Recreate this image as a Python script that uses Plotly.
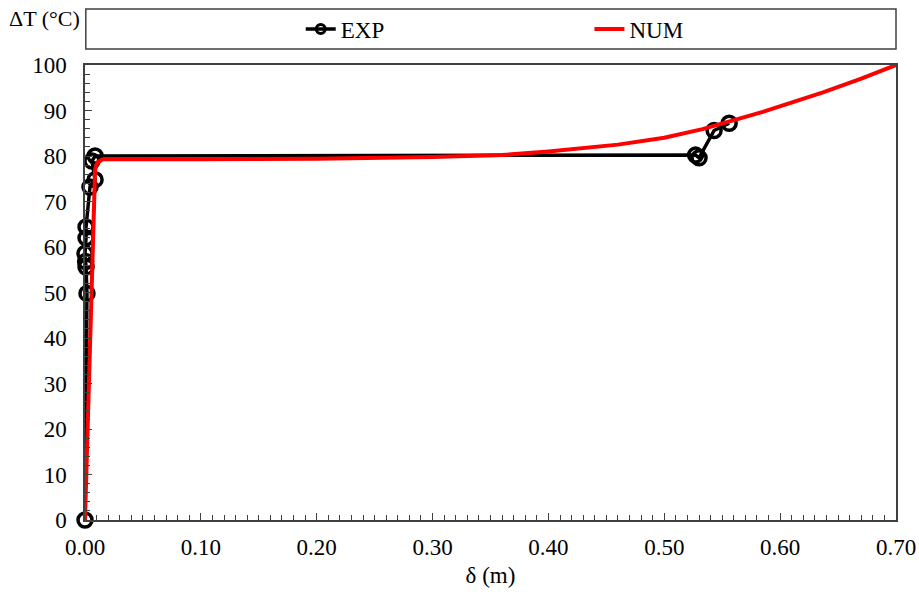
import plotly.graph_objects as go

# Experimental measurements: displacement delta (m) vs temperature rise dT (degC)
exp_delta = [0.0, 0.0017, 0.0009, 0.0005, 0.0, 0.0009, 0.0009, 0.0043, 0.0087, 0.0060, 0.0087,
             0.5270, 0.5300, 0.5430, 0.5560]
exp_dT = [0.0, 49.8, 55.6, 56.8, 58.6, 62.0, 64.4, 73.2, 74.8, 78.9, 80.0,
          80.2, 79.6, 85.6, 87.2]

# Numerical prediction
num_delta = [0.0, 0.0025, 0.0050, 0.0067, 0.0078, 0.0087, 0.0110, 0.0156, 0.10, 0.20, 0.30,
             0.36, 0.40, 0.43, 0.46, 0.50, 0.533, 0.585, 0.637, 0.67, 0.700]
num_dT = [0.0, 24.5, 48.2, 61.5, 72.5, 77.0, 78.7, 79.3, 79.3, 79.4, 79.8,
          80.2, 81.0, 81.8, 82.5, 84.0, 85.9, 89.7, 94.0, 97.0, 100.0]

x_ticks = [0.0, 0.1, 0.2, 0.3, 0.4, 0.5, 0.6, 0.7]
y_ticks = [0, 10, 20, 30, 40, 50, 60, 70, 80, 90, 100]

FONT = "'Liberation Serif', 'Times New Roman', serif"
FSIZE = 23
AXIS_COL = "#404040"

fig = go.Figure()

fig.add_trace(go.Scatter(
    x=exp_delta, y=exp_dT, mode="lines+markers", name="EXP",
    line=dict(color="black", width=3.5),
    marker=dict(symbol="circle-open", size=14, color="black", line=dict(width=3.5, color="black")),
    cliponaxis=False, showlegend=False,
))
fig.add_trace(go.Scatter(
    x=num_delta, y=num_dT, mode="lines", name="NUM",
    line=dict(color="#ff0000", width=4),
    cliponaxis=True, showlegend=False,
))

# legend entries, each in its own legend box so they sit apart
fig.add_trace(go.Scatter(
    x=[None], y=[None], mode="lines+markers", name="EXP", legend="legend",
    line=dict(color="black", width=3.5),
    marker=dict(symbol="circle-open", size=9, color="black", line=dict(width=3, color="black")),
))
fig.add_trace(go.Scatter(
    x=[None], y=[None], mode="lines", name="NUM", legend="legend2",
    line=dict(color="#ff0000", width=4),
))

legend_common = dict(
    orientation="h", yanchor="middle", xanchor="left", y=1.079,
    bgcolor="rgba(0,0,0,0)", borderwidth=0,
    font=dict(family=FONT, size=FSIZE, color="black"),
    itemclick=False, itemdoubleclick=False,
)

fig.update_layout(
    width=919, height=592,
    margin=dict(l=85, r=23, t=65, b=72, autoexpand=False),
    paper_bgcolor="white", plot_bgcolor="white",
    font=dict(family=FONT, size=FSIZE, color="black"),
    legend=dict(x=0.266, **legend_common),
    legend2=dict(x=0.622, **legend_common),
    shapes=[dict(
        type="rect", xref="paper", yref="paper",
        x0=0.001, x1=1.0, y0=1.035, y1=1.123,
        line=dict(color=AXIS_COL, width=1.5), fillcolor="rgba(0,0,0,0)",
    )],
    annotations=[dict(
        text="ΔT (°C)", xref="paper", yref="paper", x=-0.004, y=1.103,
        xanchor="right", yanchor="middle", showarrow=False,
        font=dict(family=FONT, size=22, color="black"),
    )],
)

fig.update_xaxes(
    range=[0, 0.7], tickvals=x_ticks, tickformat=".2f",
    ticks="inside", ticklen=7, tickwidth=1, tickcolor=AXIS_COL,
    ticklabelstandoff=6,
    minor=dict(dtick=0.01, ticks="inside", ticklen=5, tickcolor=AXIS_COL, showgrid=False),
    showline=True, linecolor=AXIS_COL, linewidth=1.5, mirror=True,
    showgrid=False, zeroline=False,
    title=dict(text="δ (m)", standoff=8, font=dict(family=FONT, size=FSIZE)),
)
fig.update_yaxes(
    range=[0, 100], tickvals=y_ticks,
    ticks="inside", ticklen=7, tickwidth=1, tickcolor=AXIS_COL,
    ticklabelstandoff=12,
    minor=dict(dtick=2, ticks="inside", ticklen=5, tickcolor=AXIS_COL, showgrid=False),
    showline=True, linecolor=AXIS_COL, linewidth=1.5, mirror=True,
    showgrid=False, zeroline=False,
)

fig.write_html("out.html")
